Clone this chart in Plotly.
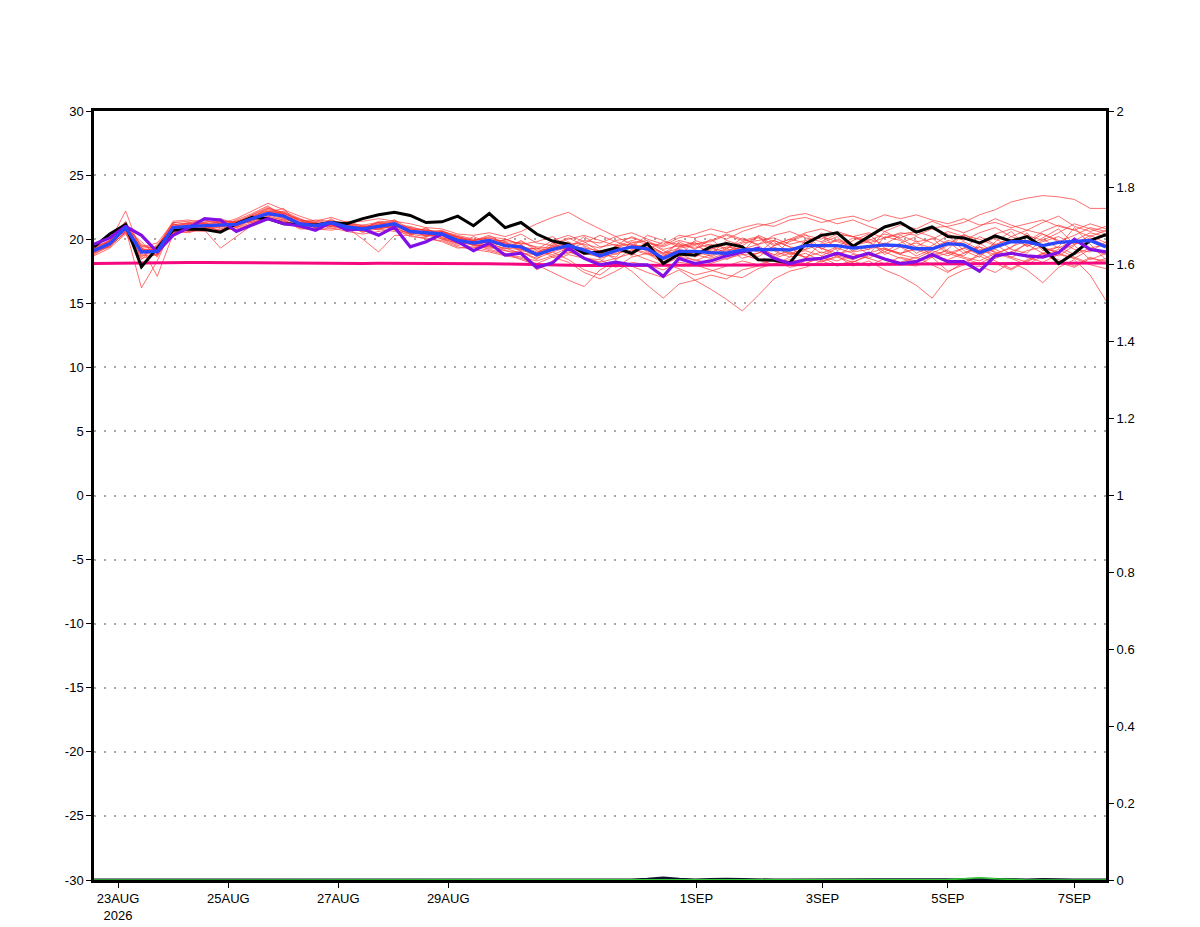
import plotly.graph_objects as go

# forecast step index (6-hourly)
steps = list(range(65))

tick_pos = [1.52, 8.5, 15.45, 22.4, 38.1, 46.07, 54.0, 62.0]
tick_text = ["23AUG<br>2026", "25AUG", "27AUG", "29AUG", "1SEP", "3SEP", "5SEP", "7SEP"]

left_ticks = [-30, -25, -20, -15, -10, -5, 0, 5, 10, 15, 20, 25, 30]
left_labels = ["-30", "-25", "-20", "-15", "-10", "-5", "0", "5", "10", "15", "20", "25", "30"]
right_ticks = [0, 0.2, 0.4, 0.6, 0.8, 1, 1.2, 1.4, 1.6, 1.8, 2]
right_labels = ["0", "0.2", "0.4", "0.6", "0.8", "1", "1.2", "1.4", "1.6", "1.8", "2"]

control = [19.4, 20.4, 21.15, 17.85, 19.3, 20.7, 20.8, 20.75, 20.55, 21.2, 21.7, 21.6, 21.2,
           21.15, 21.1, 21.3, 21.2, 21.6, 21.9, 22.1, 21.85, 21.3, 21.35, 21.8, 21.05, 22.0,
           20.9, 21.3, 20.4, 19.85, 19.6, 18.9, 19.0, 19.3, 18.9, 19.65, 18.1, 18.85, 18.75,
           19.4, 19.65, 19.4, 18.4, 18.35, 18.15, 19.65, 20.3, 20.5, 19.45, 20.2, 20.95, 21.3,
           20.55, 20.95, 20.2, 20.1, 19.7, 20.25, 19.85, 20.2, 19.4, 18.1, 18.9, 19.9, 20.35]

ens_mean = [19.1, 19.65, 20.9, 19.0, 19.05, 20.9, 21.0, 21.05, 21.05, 21.15, 21.6, 22.0, 21.8,
            21.2, 21.05, 21.3, 20.95, 20.8, 21.0, 21.2, 20.6, 20.5, 20.4, 19.9, 19.7, 19.9,
            19.5, 19.4, 18.8, 19.2, 19.5, 19.15, 18.7, 19.1, 19.4, 19.25, 18.5, 19.05, 19.05,
            18.95, 18.9, 19.15, 19.2, 19.2, 19.15, 19.5, 19.5, 19.5, 19.3, 19.45, 19.55, 19.5,
            19.25, 19.25, 19.65, 19.55, 18.95, 19.4, 19.8, 19.8, 19.5, 19.75, 19.8, 19.9, 19.4]

second_model = [19.6, 20.1, 21.0, 20.3, 19.0, 20.3, 20.9, 21.6, 21.5, 20.6, 21.1, 21.6, 21.2,
                21.05, 20.7, 21.3, 20.7, 20.8, 20.3, 20.95, 19.4, 19.8, 20.4, 19.8, 19.1, 19.7,
                18.75, 18.9, 17.8, 18.15, 19.3, 18.5, 18.0, 18.2, 18.0, 18.0, 17.1, 18.5, 18.1,
                18.3, 18.7, 19.0, 19.3, 18.5, 18.1, 18.4, 18.5, 18.9, 18.55, 18.9, 18.45, 18.1,
                18.25, 18.8, 18.25, 18.25, 17.5, 18.7, 18.9, 18.7, 18.6, 18.95, 20.0, 19.2, 19.0]

climate = [18.1, 18.12, 18.15, 18.17, 18.18, 18.18, 18.18, 18.17, 18.16, 18.15, 18.14, 18.13, 18.12,
           18.12, 18.11, 18.11, 18.11, 18.11, 18.12, 18.12, 18.12, 18.12, 18.12, 18.11, 18.1, 18.08,
           18.06, 18.03, 18.0, 17.98, 17.96, 17.95, 17.94, 17.94, 17.94, 17.94, 17.95, 17.95, 17.96,
           17.97, 17.98, 17.98, 17.99, 18.0, 18.0, 18.01, 18.02, 18.03, 18.03, 18.04, 18.05, 18.05,
           18.06, 18.07, 18.08, 18.08, 18.09, 18.1, 18.1, 18.11, 18.12, 18.12, 18.13, 18.13, 18.14]

precip_a = [0, 0, 0, 0, 0, 0, 0, 0, 0, 0, 0, 0, 0, 0, 0, 0, 0, 0, 0, 0, 0, 0, 0, 0, 0, 0,
            0, 0, 0, 0, 0, 0, 0.001, 0, 0, 0.002, 0.005, 0.002, 0, 0.001, 0.002, 0.001, 0, 0,
            0, 0, 0, 0, 0, 0, 0, 0, 0, 0, 0, 0.001, 0.002, 0.001, 0, 0, 0.001, 0, 0, 0, 0]
precip_b = [0, 0, 0, 0, 0, 0, 0, 0, 0, 0, 0, 0, 0, 0, 0, 0, 0, 0, 0, 0, 0, 0, 0, 0, 0, 0,
            0, 0, 0, 0, 0, 0, 0, 0, 0, 0, 0.001, 0, 0, 0, 0, 0, 0, 0, 0, 0, 0, 0, 0, 0, 0, 0,
            0, 0, 0.001, 0.003, 0.006, 0.003, 0.001, 0, 0, 0, 0.001, 0, 0]

m01 = [18.8, 19.5, 21.0, 19.3, 18.7, 20.6, 21.2, 21.0, 20.7, 21.0, 21.8, 22.3, 21.9,
       21.4, 21.2, 21.0, 21.3, 20.9, 21.3, 21.0, 20.8, 20.2, 20.6, 20.1, 19.6, 19.4,
       19.8, 19.0, 18.4, 19.6, 20.1, 19.5, 18.9, 18.6, 19.8, 19.0, 18.2, 19.4, 19.8,
       18.6, 19.2, 20.1, 19.5, 18.7, 19.9, 20.4, 19.2, 20.0, 19.6, 18.8, 20.2, 19.9,
       18.9, 19.5, 20.3, 19.1, 18.6, 19.8, 20.6, 19.4, 20.1, 20.8, 19.6, 20.3, 19.7]
m02 = [19.3, 19.9, 20.6, 18.6, 19.5, 21.2, 20.8, 21.4, 21.3, 20.9, 21.5, 22.1, 22.4,
       21.0, 20.8, 21.6, 20.7, 21.1, 20.7, 21.5, 20.3, 20.9, 20.1, 19.6, 20.2, 19.7,
       19.2, 19.9, 19.1, 18.8, 19.3, 20.2, 19.4, 19.6, 18.7, 19.8, 19.1, 18.6, 19.9,
       19.5, 18.4, 19.0, 20.3, 19.8, 18.9, 19.2, 20.5, 19.1, 19.9, 20.4, 19.3, 18.8,
       19.9, 18.6, 19.2, 20.4, 19.7, 18.9, 19.3, 20.5, 19.1, 19.4, 20.9, 19.6, 18.4]
m03 = [18.9, 19.4, 20.8, 16.2, 18.3, 21.0, 20.7, 20.6, 21.2, 21.4, 21.3, 21.8, 22.0,
       21.5, 21.3, 20.8, 21.2, 20.5, 21.1, 21.4, 20.7, 20.4, 20.0, 19.5, 19.9, 20.3,
       19.6, 19.1, 18.9, 19.7, 19.1, 18.5, 18.2, 19.4, 19.9, 19.6, 18.9, 19.7, 18.6,
       19.2, 19.6, 18.8, 18.9, 19.9, 19.4, 18.5, 19.7, 20.2, 19.0, 19.2, 20.6, 20.0,
       19.4, 20.1, 19.0, 18.7, 19.6, 20.1, 19.2, 18.9, 20.0, 19.3, 19.9, 20.5, 20.2]
m04 = [19.0, 19.8, 22.2, 18.9, 19.4, 21.4, 21.5, 21.2, 21.0, 21.5, 22.0, 22.6, 21.7,
       21.2, 21.5, 21.4, 20.9, 20.6, 21.2, 20.9, 20.4, 20.7, 20.5, 19.8, 19.3, 20.0,
       19.4, 19.8, 19.3, 18.6, 18.9, 19.3, 19.1, 18.4, 19.2, 18.8, 18.6, 19.8, 19.2,
       20.0, 19.1, 19.4, 18.6, 19.5, 20.0, 19.7, 18.9, 19.4, 20.1, 19.8, 19.0, 19.7,
       20.2, 19.7, 18.9, 19.3, 20.2, 19.6, 18.8, 19.7, 20.4, 19.9, 19.2, 19.0, 19.8]
m05 = [19.2, 19.6, 20.9, 19.4, 17.1, 20.4, 21.1, 21.3, 20.8, 21.1, 21.6, 21.9, 21.6,
       21.1, 20.9, 21.1, 21.4, 21.0, 20.8, 21.1, 21.0, 20.6, 20.3, 20.2, 19.8, 19.5,
       20.0, 19.6, 18.6, 19.4, 19.8, 18.9, 18.6, 19.5, 19.6, 19.1, 18.4, 18.9, 18.3,
       18.8, 19.9, 19.5, 20.2, 19.1, 18.6, 19.9, 19.3, 18.7, 19.5, 19.8, 18.8, 19.4,
       18.7, 19.2, 19.8, 18.9, 19.4, 18.5, 19.0, 19.6, 18.9, 18.7, 19.5, 18.4, 18.9]
m06 = [19.4, 19.9, 21.1, 19.1, 19.3, 21.1, 21.3, 20.9, 21.1, 21.2, 21.4, 22.0, 22.2,
       21.6, 21.1, 21.3, 21.0, 20.8, 21.4, 21.3, 20.6, 20.4, 20.5, 20.0, 19.5, 19.6,
       19.3, 19.2, 18.7, 19.0, 18.4, 17.6, 17.2, 18.1, 17.9, 17.4, 17.0, 17.6, 16.8,
       16.1, 15.3, 14.4, 15.6, 16.9, 17.5, 17.8, 18.3, 17.9, 18.2, 18.8, 18.4, 18.1,
       17.9, 18.6, 17.5, 18.0, 18.9, 18.3, 17.7, 18.4, 18.9, 18.2, 17.8, 18.5, 18.3]
m07 = [19.0, 19.7, 20.7, 19.2, 18.9, 20.8, 21.0, 21.3, 21.4, 21.3, 21.9, 22.4, 21.9,
       21.3, 21.1, 21.2, 21.1, 20.7, 21.0, 21.2, 20.9, 20.3, 20.6, 20.2, 19.9, 20.1,
       19.7, 19.5, 19.0, 19.4, 19.7, 19.6, 19.3, 19.9, 20.1, 19.7, 19.4, 19.9, 19.6,
       19.8, 20.3, 19.9, 20.2, 19.6, 20.0, 20.5, 20.8, 20.4, 20.2, 20.5, 20.1, 20.4,
       20.6, 20.9, 21.0, 21.3, 21.9, 22.3, 22.9, 23.2, 23.4, 23.3, 23.1, 22.4, 22.4]
m08 = [19.2, 19.5, 20.5, 18.8, 19.0, 20.7, 20.9, 20.8, 21.3, 20.9, 21.3, 21.7, 21.5,
       21.0, 21.2, 21.4, 20.8, 21.0, 21.1, 20.7, 20.5, 20.6, 20.0, 19.7, 19.6, 19.2,
       18.9, 18.4, 18.0, 17.4, 16.8, 16.3, 17.6, 18.3, 17.5, 16.4, 15.4, 16.5, 16.8,
       17.2, 16.9, 17.6, 17.9, 18.4, 17.8, 18.1, 18.6, 18.0, 18.3, 17.9, 18.5, 18.2,
       18.6, 18.0, 17.4, 18.2, 18.7, 18.1, 17.6, 18.3, 18.8, 18.4, 17.9, 18.6, 18.1]
m09 = [19.1, 19.8, 21.0, 19.0, 19.2, 21.0, 20.6, 21.0, 21.5, 21.3, 21.5, 22.1, 21.8,
       21.3, 20.9, 21.2, 21.2, 20.9, 20.9, 21.0, 20.7, 20.8, 20.3, 19.9, 19.8, 19.8,
       19.5, 19.3, 18.9, 19.3, 19.6, 19.0, 18.8, 19.2, 19.3, 18.9, 18.7, 19.2, 18.9,
       19.1, 18.7, 18.9, 19.3, 18.8, 19.0, 18.6, 18.2, 18.7, 17.9, 18.3, 17.6, 17.1,
       16.4, 15.4, 17.0, 17.6, 17.9, 17.4, 18.2, 17.6, 16.6, 17.8, 18.4, 17.2, 15.2]
m10 = [19.5, 20.1, 21.3, 19.4, 19.7, 21.3, 21.4, 21.5, 21.2, 21.6, 22.2, 22.8, 22.3,
       21.8, 21.4, 21.7, 21.3, 21.4, 21.6, 21.4, 21.2, 20.9, 20.8, 20.4, 20.3, 20.5,
       20.2, 20.6, 21.2, 21.7, 22.1, 21.4, 20.8, 20.2, 20.5, 20.0, 19.6, 20.3, 20.1,
       20.4, 20.0, 20.6, 21.0, 21.3, 21.8, 22.0, 21.6, 21.2, 21.5, 21.0, 20.6, 21.1,
       20.8, 21.4, 20.9, 20.5, 21.0, 21.6, 21.1, 20.7, 21.3, 21.8, 21.0, 20.6, 21.0]
m11 = [18.7, 19.3, 20.4, 18.5, 18.8, 20.5, 20.6, 20.7, 19.3, 20.2, 21.1, 21.6, 21.4,
       20.9, 20.7, 20.9, 20.6, 20.4, 20.6, 20.8, 20.2, 20.1, 19.8, 19.3, 19.4, 19.1,
       18.8, 18.6, 18.3, 18.7, 19.0, 18.6, 18.2, 18.5, 18.9, 18.4, 18.0, 18.6, 18.4,
       18.1, 18.5, 18.8, 18.4, 18.0, 18.6, 18.9, 18.3, 18.6, 18.2, 18.7, 19.0, 18.5,
       18.2, 18.8, 19.1, 18.6, 18.3, 18.9, 18.5, 18.0, 18.7, 19.2, 18.6, 18.1, 18.5]
m12 = [19.3, 19.6, 21.0, 19.6, 19.0, 21.0, 21.2, 21.1, 20.9, 21.4, 21.7, 22.2, 22.0,
       21.5, 21.0, 21.5, 21.1, 20.8, 20.9, 21.3, 20.6, 20.5, 20.7, 20.1, 19.7, 20.0,
       19.6, 19.4, 19.2, 19.9, 20.3, 19.8, 19.0, 19.3, 19.7, 19.9, 19.2, 19.5, 19.7,
       19.3, 19.0, 19.7, 19.9, 20.1, 19.6, 19.9, 20.2, 19.8, 19.4, 20.0, 19.6, 20.3,
       19.8, 20.0, 20.6, 20.2, 19.7, 20.4, 20.8, 20.3, 19.9, 20.5, 21.2, 20.8, 20.4]
m13 = [19.0, 19.9, 20.8, 19.2, 19.2, 20.9, 21.3, 21.2, 21.0, 21.0, 21.5, 22.0, 22.1,
       21.4, 21.3, 21.0, 20.9, 20.9, 21.2, 21.5, 20.8, 20.7, 20.6, 20.3, 20.0, 19.9,
       19.9, 20.4, 19.7, 19.5, 20.0, 20.3, 19.9, 19.5, 20.2, 19.7, 19.5, 20.1, 20.4,
       20.8, 20.5, 20.9, 21.2, 21.0, 21.5, 21.7, 21.3, 21.6, 21.8, 21.4, 21.9, 21.6,
       21.9, 21.5, 21.2, 21.6, 21.1, 21.3, 20.9, 21.2, 21.5, 21.0, 20.7, 21.2, 20.8]
m14 = [19.2, 19.7, 20.7, 18.4, 19.6, 20.8, 20.9, 21.0, 21.2, 21.1, 21.8, 22.2, 21.6,
       21.2, 21.0, 21.0, 21.3, 20.6, 20.8, 21.0, 20.5, 20.3, 20.2, 19.7, 19.8, 19.5,
       19.1, 19.0, 18.5, 19.0, 19.4, 18.8, 19.1, 18.8, 19.5, 19.4, 18.9, 19.0, 18.8,
       18.5, 18.9, 19.4, 19.0, 18.6, 19.2, 19.6, 19.3, 18.9, 19.1, 19.5, 19.2, 18.9,
       19.3, 18.9, 19.5, 19.8, 19.2, 18.8, 19.4, 19.9, 19.3, 19.0, 19.6, 20.1, 19.5]
m15 = [19.1, 19.4, 20.6, 19.1, 18.9, 20.5, 20.8, 21.1, 20.6, 21.2, 21.4, 21.9, 21.8,
       21.1, 21.2, 21.1, 20.7, 20.7, 20.9, 20.9, 20.4, 20.6, 20.1, 19.8, 19.6, 19.4,
       19.1, 18.8, 17.6, 18.3, 18.8, 18.5, 18.4, 17.8, 18.6, 18.9, 18.1, 17.7, 17.2,
       17.5, 17.9, 18.3, 18.0, 18.5, 18.9, 18.6, 19.0, 18.7, 18.4, 18.9, 19.3, 18.9,
       19.2, 18.7, 18.4, 18.9, 19.4, 19.0, 18.6, 19.1, 19.4, 18.9, 18.5, 19.2, 18.8]
m16 = [19.6, 20.2, 21.2, 19.5, 19.3, 21.3, 21.2, 21.5, 21.6, 21.2, 21.7, 22.4, 22.1,
       21.5, 21.4, 21.3, 21.2, 21.1, 21.3, 21.0, 20.9, 20.7, 20.5, 20.2, 19.9, 20.1,
       19.8, 19.7, 19.4, 19.3, 19.2, 19.7, 20.3, 19.8, 19.4, 20.3, 19.9, 19.4, 19.6,
       19.9, 20.4, 20.0, 19.6, 20.3, 20.6, 20.1, 19.8, 20.4, 20.2, 19.7, 20.1, 20.5,
       20.3, 20.8, 20.4, 19.9, 20.5, 20.9, 20.2, 19.8, 20.6, 21.1, 20.7, 20.2, 20.7]
m17 = [18.9, 19.6, 20.9, 19.8, 18.6, 20.7, 21.0, 20.8, 21.0, 20.7, 21.2, 21.8, 21.5,
       20.8, 20.8, 21.2, 20.8, 20.8, 20.8, 20.6, 20.4, 20.2, 20.4, 19.9, 19.5, 19.3,
       19.3, 18.9, 18.8, 19.5, 19.2, 19.4, 18.5, 18.9, 19.1, 19.3, 18.8, 18.6, 19.0,
       18.7, 19.3, 18.5, 18.9, 19.4, 18.8, 19.1, 18.7, 19.3, 18.9, 18.5, 19.2, 18.8,
       18.5, 19.1, 18.7, 19.3, 18.8, 19.2, 18.6, 18.2, 18.9, 19.4, 18.8, 19.3, 19.6]
m18 = [19.2, 19.9, 21.4, 19.0, 19.1, 21.2, 20.8, 21.2, 21.3, 21.4, 21.9, 22.5, 22.0,
       21.6, 21.1, 21.4, 20.9, 20.9, 21.3, 21.2, 20.8, 20.5, 20.4, 20.0, 19.9, 20.2,
       20.0, 19.6, 19.8, 20.2, 19.4, 19.9, 19.7, 20.2, 19.6, 19.2, 19.8, 19.6, 19.3,
       19.6, 19.3, 19.8, 20.1, 19.5, 19.8, 20.3, 20.0, 20.6, 20.2, 19.9, 20.4, 20.1,
       20.6, 20.2, 19.6, 20.3, 20.0, 19.5, 20.2, 20.7, 20.4, 19.8, 20.3, 20.9, 20.6]
m19 = [19.0, 19.5, 20.5, 18.7, 18.8, 20.6, 20.5, 20.9, 20.7, 20.8, 21.2, 21.6, 21.4,
       20.9, 20.8, 20.7, 20.9, 20.0, 19.0, 20.3, 20.3, 20.0, 19.9, 19.4, 19.2, 19.0,
       18.7, 18.5, 18.1, 18.6, 18.2, 17.4, 16.9, 17.5, 18.2, 18.0, 17.6, 18.2, 18.0,
       17.6, 17.2, 17.0, 17.7, 18.1, 18.4, 18.1, 18.6, 18.3, 18.8, 18.5, 18.1, 18.6,
       18.3, 18.6, 18.9, 18.5, 18.1, 18.7, 19.0, 18.6, 18.2, 18.8, 18.5, 18.0, 17.7]
m20 = [19.4, 19.8, 20.6, 19.3, 19.4, 21.1, 21.1, 20.9, 21.4, 21.0, 21.6, 22.0, 21.9,
       21.3, 21.3, 21.1, 21.0, 21.0, 21.0, 21.1, 20.6, 20.3, 20.6, 20.1, 19.9, 19.7,
       19.7, 19.2, 19.3, 19.1, 19.6, 19.2, 18.7, 19.0, 19.4, 19.6, 18.9, 19.3, 19.5,
       19.0, 19.4, 19.2, 19.6, 19.9, 19.4, 19.2, 19.6, 19.9, 19.5, 19.2, 19.7, 19.4,
       19.7, 19.3, 19.9, 19.6, 19.1, 19.6, 20.0, 19.5, 19.8, 20.2, 19.6, 19.9, 20.3]

members = [m01, m02, m03, m04, m05, m06, m07, m08, m09, m10,
           m11, m12, m13, m14, m15, m16, m17, m18, m19, m20]

fig = go.Figure()

for m in members:
    fig.add_trace(go.Scatter(x=steps, y=m, mode="lines",
                             line=dict(color="rgba(255,55,55,0.9)", width=0.8),
                             showlegend=False, hoverinfo="skip"))

fig.add_trace(go.Scatter(x=steps, y=precip_a, mode="lines", yaxis="y2",
                         line=dict(color="#101030", width=3), showlegend=False))
fig.add_trace(go.Scatter(x=steps, y=precip_b, mode="lines", yaxis="y2",
                         line=dict(color="#33cc33", width=1.5), showlegend=False))

fig.add_trace(go.Scatter(x=steps, y=climate, mode="lines",
                         line=dict(color="#f5087f", width=3), showlegend=False))
fig.add_trace(go.Scatter(x=steps, y=control, mode="lines",
                         line=dict(color="#000000", width=3), showlegend=False))
fig.add_trace(go.Scatter(x=steps, y=second_model, mode="lines",
                         line=dict(color="#8210e6", width=3.2), showlegend=False))
fig.add_trace(go.Scatter(x=steps, y=ens_mean, mode="lines",
                         line=dict(color="#2a46ff", width=3.4), showlegend=False))

font = dict(family="Liberation Sans, Arial, sans-serif", size=13, color="#000000")

# the page body has an 8px margin, so the plot box is shifted by that amount
fig.update_layout(
    width=1200, height=927,
    margin=dict(l=86, r=102, t=103, b=46),
    paper_bgcolor="white", plot_bgcolor="white",
    font=font,
    showlegend=False,
    xaxis=dict(range=[0, 64], tickvals=tick_pos, ticktext=tick_text,
               ticks="outside", ticklen=5, tickwidth=1, tickcolor="#000",
               showgrid=False, zeroline=False,
               showline=True, linecolor="#000", linewidth=2.5, mirror=True,
               tickfont=font),
    yaxis=dict(range=[-30, 30], tickvals=left_ticks, ticktext=left_labels,
               ticks="outside", ticklen=5, tickwidth=1, tickcolor="#000",
               showgrid=True, gridcolor="#a8a8a8", griddash="2px,8px", gridwidth=1.5,
               zeroline=False, showline=True, linecolor="#000", linewidth=2.5,
               tickfont=font),
    yaxis2=dict(range=[0, 2], tickvals=right_ticks, ticktext=right_labels,
                overlaying="y", side="right",
                ticks="outside", ticklen=5, tickwidth=1, tickcolor="#000",
                showgrid=False, zeroline=False, showline=True, linecolor="#000",
                linewidth=3, tickfont=font),
)

fig.write_html("out.html")
